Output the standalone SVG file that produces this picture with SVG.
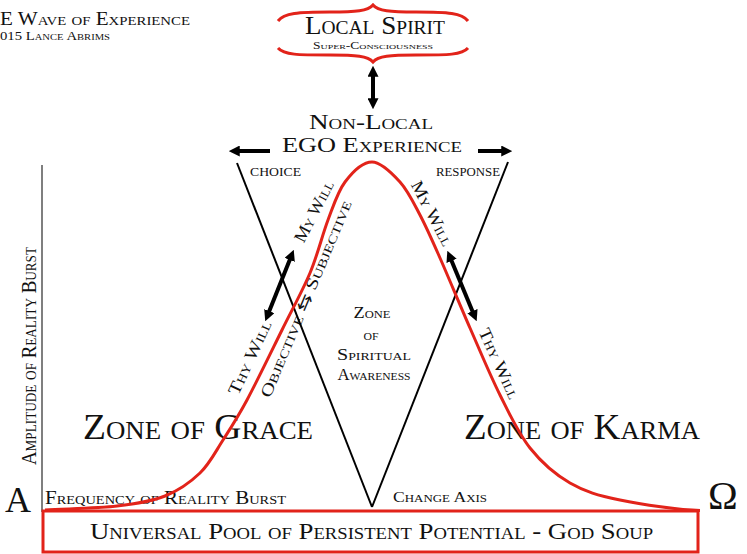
<svg xmlns="http://www.w3.org/2000/svg" width="747" height="554" viewBox="0 0 747 554">
<style>
.t{font-family:"Liberation Serif","Times New Roman",serif;font-variant:small-caps;fill:#111;}
.red{fill:none;stroke:#e2231a;stroke-width:3;}
.ln{fill:none;stroke:#000;stroke-width:2;}
.arr{fill:none;stroke:#000;stroke-width:4;}
</style>
<defs>
<marker id="ah" viewBox="0 0 12 12" markerWidth="11" markerHeight="11" markerUnits="userSpaceOnUse" refX="3" refY="6" orient="auto-start-reverse">
<path d="M0,0 L12,6 L0,12 z" fill="#000"/>
</marker>
</defs>
<rect width="747" height="554" fill="#fff"/>

<g id="title">
<text class="t" x="0" y="25" font-size="18.5" textLength="190" lengthAdjust="spacingAndGlyphs">E Wave of Experience</text>
<text class="t" x="0" y="40" font-size="12.5" textLength="110" lengthAdjust="spacingAndGlyphs">015 Lance Abrims</text>
</g>

<g id="local-spirit">
<path class="red" stroke-width="2.5" d="M278,21 C284,13 298,12 330,12 C356,12 368,11 373,5 C378,11 390,12 416,12 C448,12 462,13 468,21"/>
<path class="red" stroke-width="2.5" d="M278,48 C284,55 298,55 330,55 C356,55 368,56 373,62 C378,56 390,55 416,55 C448,55 462,55 468,48"/>
<text class="t" x="305" y="34" font-size="25" textLength="140" lengthAdjust="spacingAndGlyphs">Local Spirit</text>
<text class="t" x="313" y="48.5" font-size="9.5" textLength="120" lengthAdjust="spacingAndGlyphs">Super-Consciousness</text>
</g>

<g id="non-local-ego">
<text class="t" x="309" y="129" font-size="20" textLength="124" lengthAdjust="spacingAndGlyphs">Non-Local</text>
<text class="t" x="282" y="152" font-size="21" textLength="180" lengthAdjust="spacingAndGlyphs">EGO Experience</text>
</g>

<g id="choice"><text class="t" x="250" y="176" font-size="13.5" textLength="51" lengthAdjust="spacingAndGlyphs">CHOICE</text></g>
<g id="response"><text class="t" x="436" y="176" font-size="13.5" textLength="64" lengthAdjust="spacingAndGlyphs">RESPONSE</text></g>

<g id="zone-spiritual" text-anchor="middle">
<text class="t" x="372" y="318" font-size="16" textLength="37" lengthAdjust="spacingAndGlyphs">Zone</text>
<text class="t" x="371" y="340" font-size="16" textLength="15" lengthAdjust="spacingAndGlyphs">of</text>
<text class="t" x="374" y="360" font-size="16" textLength="74" lengthAdjust="spacingAndGlyphs">Spiritual</text>
<text class="t" x="374" y="380" font-size="16" textLength="73" lengthAdjust="spacingAndGlyphs">Awareness</text>
</g>

<g id="zone-grace"><text class="t" x="83" y="439" font-size="35" textLength="230" lengthAdjust="spacingAndGlyphs">Zone of Grace</text></g>
<g id="zone-karma"><text class="t" x="464" y="439" font-size="35" textLength="236" lengthAdjust="spacingAndGlyphs">Zone of Karma</text></g>

<g id="left-labels" text-anchor="middle">
<text class="t" font-size="17.5" textLength="67" lengthAdjust="spacingAndGlyphs" transform="translate(319,214) rotate(-62.7)">My Will</text>
<text class="t" font-size="16.5" textLength="212" lengthAdjust="spacingAndGlyphs" transform="translate(311,301) rotate(-67.2)">Objective ⇆ Subjective</text>
<text class="t" font-size="17.5" textLength="80" lengthAdjust="spacingAndGlyphs" transform="translate(255,360) rotate(-65)">Thy Will</text>
</g>
<g id="right-labels" text-anchor="middle">
<text class="t" font-size="17.5" textLength="71" lengthAdjust="spacingAndGlyphs" transform="translate(427,216) rotate(62.4)">My Will</text>
<text class="t" font-size="17.5" textLength="76" lengthAdjust="spacingAndGlyphs" transform="translate(494,366) rotate(65.4)">Thy Will</text>
</g>

<g id="axes">
<line x1="42" y1="165" x2="42" y2="512" stroke="#555" stroke-width="1.5"/>
<text class="t" font-size="20" textLength="218" lengthAdjust="spacingAndGlyphs" transform="translate(36,465) rotate(-90)">Amplitude of Reality Burst</text>
<text class="t" x="45" y="504" font-size="19" textLength="241" lengthAdjust="spacingAndGlyphs">Frequency of Reality Burst</text>
<text class="t" x="393" y="502" font-size="15" textLength="94" lengthAdjust="spacingAndGlyphs">Change Axis</text>
<text x="5" y="512" font-family="Liberation Serif, serif" font-size="36" fill="#111">A</text>
<text x="708" y="509" font-family="Liberation Serif, serif" font-size="40" fill="#111">Ω</text>
</g>

<g id="universal-pool">
<rect x="43" y="511" width="655" height="41" fill="#fff" stroke="#e2231a" stroke-width="3"/>
<text class="t" x="90" y="539" font-size="23" textLength="563" lengthAdjust="spacingAndGlyphs">Universal Pool of Persistent Potential - God Soup</text>
</g>

<g id="connectors">
<line class="ln" x1="237" y1="163" x2="372" y2="507"/>
<line class="ln" x1="508" y1="162" x2="372" y2="507"/>
<path class="red" d="M45,510 C69,508.7 97,508.3 117,506 C137,503.7 151.2,501.5 165,496 C178.8,490.5 190.3,482.3 200,473 C209.7,463.7 215.2,452.2 223,440 C230.8,427.8 237.2,418.3 247,400 C256.8,381.7 271.5,351.2 282,330 C292.5,308.8 302.3,291.3 310,273 C317.7,254.7 322.2,235.2 328,220 C333.8,204.8 337.7,191.7 345,182 C352.3,172.3 362.8,162 372,162 C381.2,162 392,173.2 400,182 C408,190.8 413.3,202.3 420,215 C426.7,227.7 431.7,239.2 440,258 C448.3,276.8 460,305.2 470,328 C480,350.8 490,375 500,395 C510,415 518.3,433.3 530,448 C541.7,462.7 555,474.3 570,483 C585,491.7 598.3,495.5 620,500 C641.7,504.5 680,510 700,510.5"/>
<line class="arr" x1="373" y1="74" x2="373" y2="101" marker-start="url(#ah)" marker-end="url(#ah)"/>
<line class="arr" x1="270" y1="151" x2="237" y2="151" marker-end="url(#ah)"/>
<line class="arr" x1="478" y1="151" x2="504" y2="151" marker-end="url(#ah)"/>
<line class="arr" x1="290.7" y1="257.4" x2="268.3" y2="313.6" marker-start="url(#ah)" marker-end="url(#ah)"/>
<line class="arr" x1="450.5" y1="258.3" x2="473.5" y2="313.7" marker-start="url(#ah)" marker-end="url(#ah)"/>
</g>
</svg>
